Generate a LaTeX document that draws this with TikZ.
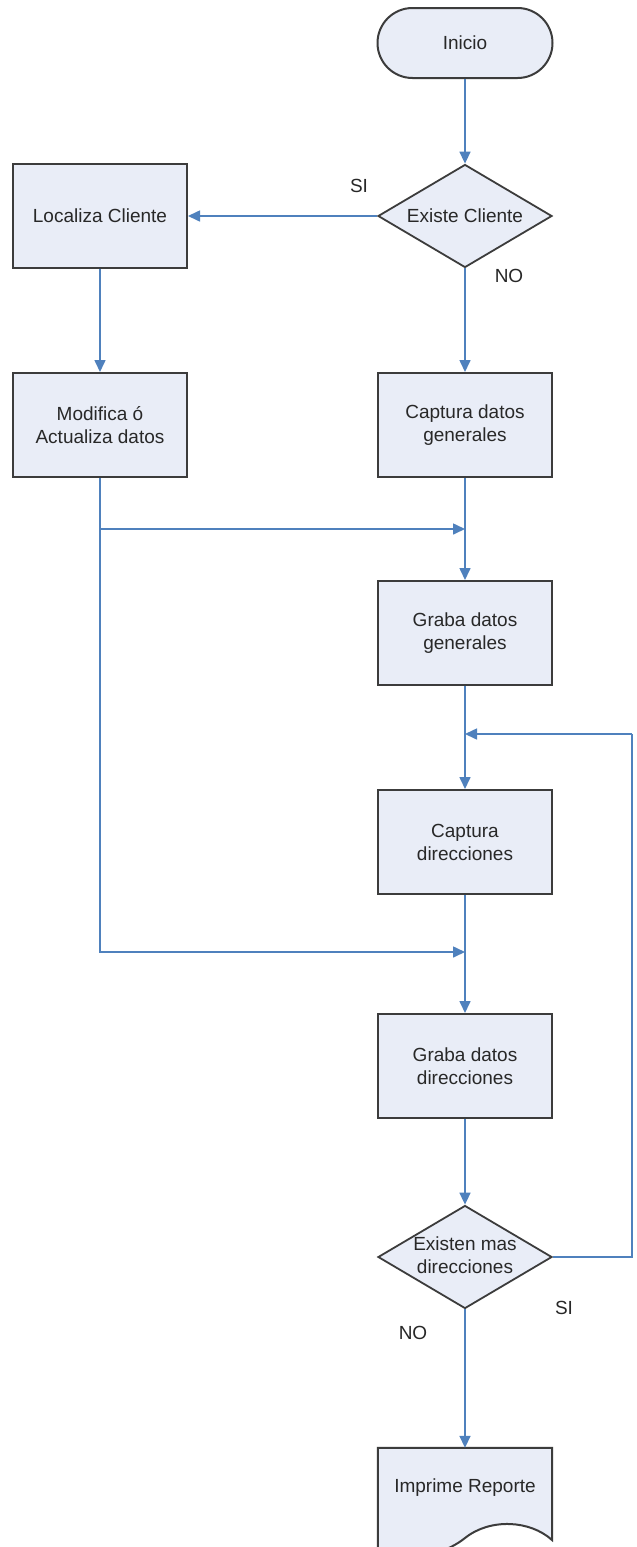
\documentclass[tikz,border=0pt]{standalone}
\usepackage{fontspec}
\setmainfont{Liberation Sans}
\usetikzlibrary{arrows.meta,shapes.geometric,shapes.misc}
\definecolor{boxfill}{RGB}{233,237,247}
\definecolor{boxline}{RGB}{60,60,60}
\definecolor{flow}{RGB}{79,129,189}
\definecolor{ink}{RGB}{40,40,40}
\tikzset{
  txt/.style={font=\fontsize{19}{23}\selectfont, text=ink, align=center},
  procbox/.style={rectangle, draw=boxline, fill=boxfill, line width=2pt,
    minimum width=174pt, minimum height=104pt, inner sep=0pt, txt},
  decision/.style={diamond, draw=boxline, fill=boxfill, line width=1.8pt,
    minimum width=174pt, minimum height=103pt, inner sep=0pt, aspect=1.7},
  terminal/.style={rounded rectangle, draw=boxline, fill=boxfill, line width=2pt,
    minimum width=175pt, minimum height=70pt, inner sep=0pt, txt},
  conn/.style={draw=flow, line width=1.6pt,
    -{Triangle[length=12pt,width=11pt]}},
  plain/.style={draw=flow, line width=1.6pt},
  tag/.style={txt}
}
\begin{document}
\begin{tikzpicture}[x=1pt,y=-1pt]
  \useasboundingbox (0,0) rectangle (637,1547);
  \fill[white] (0,0) rectangle (637,1547);

  % shapes
  \node[terminal] (inicio) at (465,43) {Inicio};
  \node[decision, label={[txt]center:Existe Cliente}] (existe) at (465,216) {};
  \node[procbox] (loc) at (100,216) {Localiza Cliente};
  \node[procbox] (mod) at (100,425) {Modifica ó\\Actualiza datos};
  \node[procbox] (capgen) at (465,425) {Captura datos\\generales};
  \node[procbox] (grabgen) at (465,633) {Graba datos\\generales};
  \node[procbox] (capdir) at (465,842) {Captura\\direcciones};
  \node[procbox] (grabdir) at (465,1066) {Graba datos\\direcciones};
  \node[decision] (masdir) at (465,1257) {};
  \node[txt] (masdirtxt) at (465,1255) {Existen mas\\direcciones};

  % report (document shape)
  \node[rectangle, minimum width=174pt, minimum height=80pt, inner sep=0pt, txt]
    (rep) at (465,1488) {};
  \filldraw[fill=boxfill, draw=boxline, line width=2pt]
    (rep.north west) -- (rep.north east) -- (552,1540)
    .. controls (530,1520) and (490,1518) .. (465,1538)
    .. controls (440,1558) and (400,1562) .. (378,1552) -- cycle;
  \node[txt] (reptxt) at (rep.center) {Imprime Reporte};

  % junction points
  \coordinate (j1) at (465,529);
  \coordinate (j2) at (465,952);
  \coordinate (j3) at (465,734);
  \coordinate (r) at (632,734);

  % connectors
  \draw[conn] (inicio.south) -- (existe.north);
  \draw[conn] (existe.west) -- (loc.east);
  \draw[conn] (existe.south) -- (capgen.north);
  \draw[conn] (loc.south) -- (mod.north);
  \draw[conn] (capgen.south) -- (grabgen.north);
  \draw[conn] (mod.south) |- (j1);
  \draw[conn] (mod.south) |- (j2);
  \draw[conn] (grabgen.south) -- (capdir.north);
  \draw[conn] (capdir.south) -- (grabdir.north);
  \draw[conn] (grabdir.south) -- (masdir.north);
  \draw[plain] (masdir.east) -| (r);
  \draw[conn] (r) -- (j3);
  \draw[conn] (masdir.south) -- (rep.north);

  % branch labels
  \node[tag] (si1) at (359,186) {SI};
  \node[tag] (no1) at (509,276) {NO};
  \node[tag] (si2) at (564,1308) {SI};
  \node[tag] (no2) at (413,1333) {NO};
\end{tikzpicture}
\end{document}
